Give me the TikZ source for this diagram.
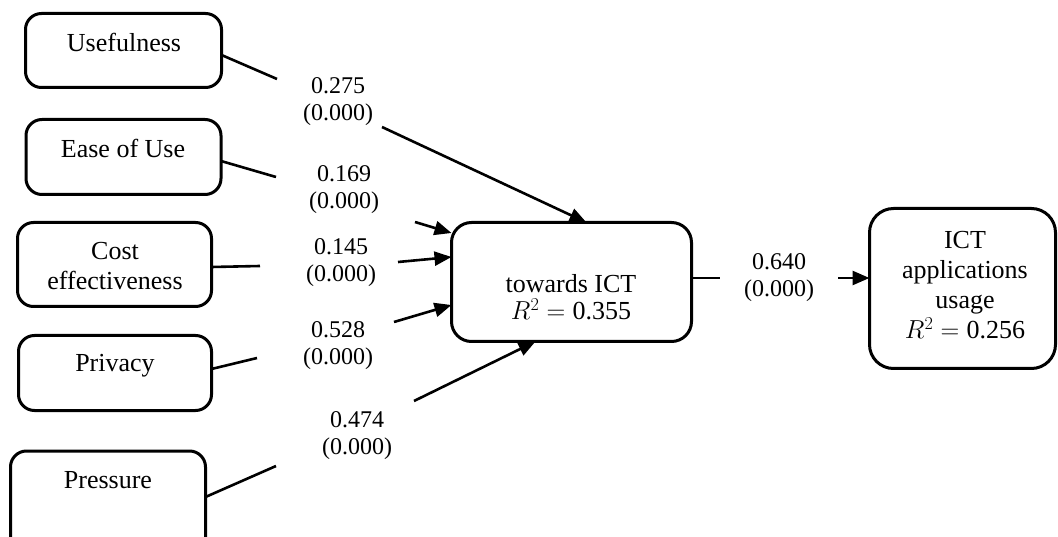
\documentclass[tikz,border=0pt]{standalone}
\usepackage{fix-cm}
\usepackage{fontspec}
\setmainfont{Liberation Serif}
\usetikzlibrary{arrows.meta,calc}
\begin{document}
\begin{tikzpicture}[x=1pt,y=-1pt,
  box/.style={draw,line width=3pt,rounded corners=16pt,inner sep=0pt,outer sep=0pt},
  boxtxt/.style={font=\fontsize{26}{30}\selectfont,align=center,inner sep=0pt,anchor=base},
  num/.style={font=\fontsize{24}{27}\selectfont,align=center,inner sep=0pt,anchor=base},
  link/.style={line width=2.6pt},
  arr/.style={line width=2.6pt,-{Triangle[length=17pt,width=14pt]}}]
\useasboundingbox (0,0) rectangle (1058,537);
\clip (0,0) rectangle (1058,537);
% boxes
\node[box,minimum width=196pt,minimum height=74pt] (use) at (123.5,50.5) {};
\node[box,minimum width=195pt,minimum height=75pt] (ease) at (123.5,157) {};
\node[box,minimum width=194pt,minimum height=84pt] (cost) at (114.5,264.5) {};
\node[box,minimum width=193pt,minimum height=75pt] (priv) at (115,373) {};
\node[box,minimum width=195pt,minimum height=140pt] (pres) at (108,521) {};
\node[box,minimum width=240pt,minimum height=119pt,rounded corners=20pt] (att) at (571.5,282) {};
\node[box,minimum width=186pt,minimum height=160pt,rounded corners=24pt] (ict) at (962.5,288.5) {};
% box texts (base = baseline of the last line)
\node[boxtxt] (use-t) at (124,52) {Usefulness};
\node[boxtxt] (ease-t) at (123,158) {Ease of Use};
\node[boxtxt] (cost-t) at (115,290) {Cost\\effectiveness};
\node[boxtxt] (priv-t) at (115,372) {Privacy};
\node[boxtxt] (pres-t) at (108,488) {Pressure};
\node[boxtxt,font=\fontsize{26}{28}\selectfont] (att-t) at (571,320) {towards ICT\\$R^2 = \mbox{0.355}$};
\node[boxtxt] (ict-t) at (965,339) {ICT\\applications\\usage\\$R^2 = \mbox{0.256}$};
% path labels
\node[num] (l1) at (338,121) {0.275\\(0.000)};
\node[num] (l2) at (344,209) {0.169\\(0.000)};
\node[num] (l3) at (341,282) {0.145\\(0.000)};
\node[num] (l4) at (338,365) {0.528\\(0.000)};
\node[num] (l5) at (357,454) {0.474\\(0.000)};
\node[num] (l6) at (779,297) {0.640\\(0.000)};
% gap coordinates
\coordinate (u1) at (277,79);  \coordinate (u2) at (382,127);
\coordinate (e1) at (276,177); \coordinate (e2) at (415,222);
\coordinate (c1) at (260,266); \coordinate (c2) at (398,262);
\coordinate (p1) at (257,358); \coordinate (p2) at (394,322);
\coordinate (s1) at (276,466); \coordinate (s2) at (414,401);
\coordinate (a1) at (720,278); \coordinate (a2) at (838,278);
% connectors
\draw[link] ([yshift=-4.5pt]use.east) -- (u1);
\draw[arr] (u2) -- ([xshift=15pt]att.north);
\draw[link] ([yshift=-4pt]ease.east) -- (e1);
\draw[arr] (e2) -- ([yshift=49pt]att.west);
\draw[link] ([yshift=-2.5pt]cost.east) -- (c1);
\draw[arr] (c2) -- ([yshift=25pt]att.west);
\draw[link] ([yshift=4pt]priv.east) -- (p1);
\draw[arr] (p2) -- ([yshift=-23pt]att.west);
\draw[link] ([yshift=24pt]pres.east) -- (s1);
\draw[arr] (s2) -- ([xshift=-36pt]att.south);
\draw[link] ([yshift=4pt]att.east) -- (a1);
\draw[arr] (a2) -- ([yshift=10.5pt]ict.west);
\end{tikzpicture}
\end{document}
